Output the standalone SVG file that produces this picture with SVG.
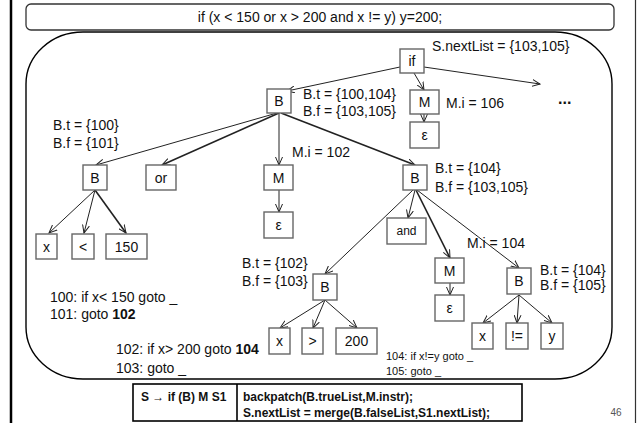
<svg xmlns="http://www.w3.org/2000/svg" width="637" height="423" viewBox="0 0 637 423">
  <style>
    text { font-family: "Liberation Sans", Arial, sans-serif; fill: #111; }
    .lbl { font-size: 14px; dominant-baseline: central; }
    .small { font-size: 11px; dominant-baseline: central; }
    .node rect { fill: #fff; stroke: #666; stroke-width: 1.4; }
    .node text { font-size: 14px; text-anchor: middle; dominant-baseline: central; }
    .edge { stroke: #222; stroke-width: 1; fill: none; marker-end: url(#arr); }
    .thick { stroke-width: 1.6; }
    .tbl { font-size: 12px; font-weight: bold; dominant-baseline: central; }
  </style>
  <defs>
    <marker id="arr" markerUnits="userSpaceOnUse" markerWidth="9" markerHeight="8" refX="8" refY="4" orient="auto">
      <path d="M0,0.5 L8,4 L0,7.5" fill="none" stroke="#222" stroke-width="1"/>
    </marker>
  </defs>

  <!-- page frame -->
  <rect width="637" height="423" fill="#fff"/>
  <line x1="11" y1="0" x2="11" y2="423" stroke="#000" stroke-width="2.5"/>
  <line x1="635.5" y1="0" x2="635.5" y2="423" stroke="#333" stroke-width="1.2"/>

  <!-- source statement -->
  <g id="statement">
    <rect x="26" y="4" width="588" height="26" rx="5" fill="#fff" stroke="#333" stroke-width="1.3"/>
    <text class="lbl" x="320" y="17" text-anchor="middle">if (x &lt; 150 or x &gt; 200 and x != y) y=200;</text>
  </g>

  <!-- parse tree area -->
  <rect id="tree-area" x="26" y="32" width="586" height="347" rx="57" ry="52" fill="none" stroke="#000" stroke-width="1.4"/>

  <!-- connectors -->
  <g id="connectors">
    <line class="edge" x1="400" y1="67" x2="287" y2="91"/>
    <line class="edge" x1="414" y1="73" x2="424" y2="90"/>
    <line class="edge" x1="424" y1="67" x2="540" y2="84"/>

    <line class="edge" x1="277" y1="113" x2="96" y2="165"/>
    <line class="edge thick" x1="279" y1="113" x2="162" y2="165"/>
    <line class="edge" x1="279" y1="113" x2="279" y2="165" stroke="#555"/>
    <line class="edge thick" x1="281" y1="113" x2="415" y2="165"/>

    <line class="edge" x1="424" y1="114" x2="424" y2="122"/>
    <line class="edge" x1="279" y1="190" x2="279" y2="212"/>

    <line class="edge" x1="95" y1="190" x2="49" y2="233"/>
    <line class="edge" x1="95" y1="190" x2="84" y2="233"/>
    <line class="edge thick" x1="95" y1="190" x2="126" y2="233"/>

    <line class="edge" x1="413" y1="190" x2="325" y2="274"/>
    <line class="edge" x1="415" y1="190" x2="408" y2="218"/>
    <line class="edge thick" x1="416" y1="190" x2="450" y2="258"/>
    <line class="edge" x1="417" y1="190" x2="519" y2="268"/>

    <line class="edge" x1="450" y1="282" x2="450" y2="295"/>

    <line class="edge" x1="325" y1="300" x2="280" y2="328"/>
    <line class="edge" x1="325" y1="300" x2="313" y2="328"/>
    <line class="edge" x1="325" y1="300" x2="357" y2="328"/>

    <line class="edge" x1="519" y1="295" x2="483" y2="323"/>
    <line class="edge" x1="519" y1="295" x2="517" y2="323" stroke="#555"/>
    <line class="edge" x1="519" y1="295" x2="552" y2="323"/>
  </g>

  <!-- nodes -->
  <g id="n-if" class="node"><rect x="400" y="49" width="24" height="24"/><text x="412" y="61">if</text></g>
  <g id="n-B1" class="node"><rect x="267" y="89" width="24" height="24"/><text x="279" y="101">B</text></g>
  <g id="n-M1" class="node"><rect x="410" y="90" width="29" height="24"/><text x="424.5" y="102">M</text></g>
  <g id="n-eps1" class="node"><rect x="410" y="122" width="29" height="26"/><text x="424.5" y="135">ε</text></g>

  <g id="n-B2" class="node"><rect x="83" y="165" width="24" height="25"/><text x="95" y="177.5">B</text></g>
  <g id="n-or" class="node"><rect x="146" y="165" width="30" height="25"/><text x="161" y="177.5">or</text></g>
  <g id="n-M2" class="node"><rect x="264" y="165" width="29" height="25"/><text x="278.5" y="177.5">M</text></g>
  <g id="n-eps2" class="node"><rect x="264" y="212" width="29" height="26"/><text x="278.5" y="225">ε</text></g>
  <g id="n-B3" class="node"><rect x="403" y="165" width="24" height="25"/><text x="415" y="177.5">B</text></g>

  <g id="n-x1" class="node"><rect x="36" y="234" width="21" height="25"/><text x="46.5" y="246.5">x</text></g>
  <g id="n-lt" class="node"><rect x="72" y="234" width="22" height="25"/><text x="83" y="246.5">&lt;</text></g>
  <g id="n-150" class="node"><rect x="106" y="234" width="41" height="25"/><text x="126.5" y="246.5">150</text></g>

  <g id="n-and" class="node"><rect x="387" y="218" width="39" height="26"/><text x="406.5" y="231" style="font-size:12px">and</text></g>
  <g id="n-M3" class="node"><rect x="435" y="258" width="29" height="25"/><text x="449.5" y="270.5">M</text></g>
  <g id="n-eps3" class="node"><rect x="435" y="295" width="29" height="26"/><text x="449.5" y="308">ε</text></g>
  <g id="n-B4" class="node"><rect x="507" y="268" width="24" height="26"/><text x="519" y="281">B</text></g>
  <g id="n-B5" class="node"><rect x="313" y="274" width="24" height="26"/><text x="325" y="287">B</text></g>

  <g id="n-x2" class="node"><rect x="269" y="328" width="21" height="26"/><text x="279.5" y="341">x</text></g>
  <g id="n-gt" class="node"><rect x="302" y="328" width="21" height="26"/><text x="312.5" y="341">&gt;</text></g>
  <g id="n-200" class="node"><rect x="336" y="328" width="41" height="26"/><text x="356.5" y="341">200</text></g>

  <g id="n-x3" class="node"><rect x="472" y="323" width="21" height="26"/><text x="482.5" y="336">x</text></g>
  <g id="n-ne" class="node"><rect x="506" y="323" width="22" height="26"/><text x="517" y="336">!=</text></g>
  <g id="n-y" class="node"><rect x="541" y="323" width="22" height="26"/><text x="552" y="336">y</text></g>

  <!-- attribute labels -->
  <g id="labels">
    <text class="lbl" x="432" y="46">S.nextList = {103,105}</text>
    <text class="lbl" x="303" y="94">B.t = {100,104}</text>
    <text class="lbl" x="303" y="111">B.f = {103,105}</text>
    <text class="lbl" x="446" y="103">M.i = 106</text>
    <text class="lbl" x="558" y="98" style="font-size:16px; font-weight:bold">...</text>
    <text class="lbl" x="53" y="125">B.t = {100}</text>
    <text class="lbl" x="53" y="143">B.f = {101}</text>
    <text class="lbl" x="292" y="152">M.i = 102</text>
    <text class="lbl" x="435" y="168">B.t = {104}</text>
    <text class="lbl" x="435" y="187">B.f = {103,105}</text>
    <text class="lbl" x="467" y="243">M.i = 104</text>
    <text class="lbl" x="540" y="270">B.t = {104}</text>
    <text class="lbl" x="540" y="285">B.f = {105}</text>
    <text class="lbl" x="242" y="263">B.t = {102}</text>
    <text class="lbl" x="242" y="281">B.f = {103}</text>
  </g>

  <!-- generated code -->
  <g id="code">
    <text class="lbl" x="50" y="297">100: if x&lt; 150 goto _</text>
    <text class="lbl" x="50" y="314">101: goto <tspan font-weight="bold">102</tspan></text>
    <text class="lbl" x="116" y="349">102: if x&gt; 200 goto <tspan font-weight="bold">104</tspan></text>
    <text class="lbl" x="116" y="368">103: goto _</text>
    <text class="small" x="386" y="356">104: if x!=y goto _</text>
    <text class="small" x="386" y="371">105: goto _</text>
  </g>

  <!-- semantic rule -->
  <g id="rule">
    <rect x="133" y="384" width="389" height="37" fill="#fff" stroke="#000" stroke-width="1.6"/>
    <line x1="237" y1="384" x2="237" y2="421" stroke="#000" stroke-width="1.6"/>
    <text class="tbl" x="141" y="397">S → if (B) M S1</text>
    <text class="tbl" x="243" y="397">backpatch(B.trueList,M.instr);</text>
    <text class="tbl" x="243" y="413">S.nextList = merge(B.falseList,S1.nextList);</text>
  </g>

  <text x="616" y="416" style="font-size:10px; fill:#555;" text-anchor="middle">46</text>
</svg>
